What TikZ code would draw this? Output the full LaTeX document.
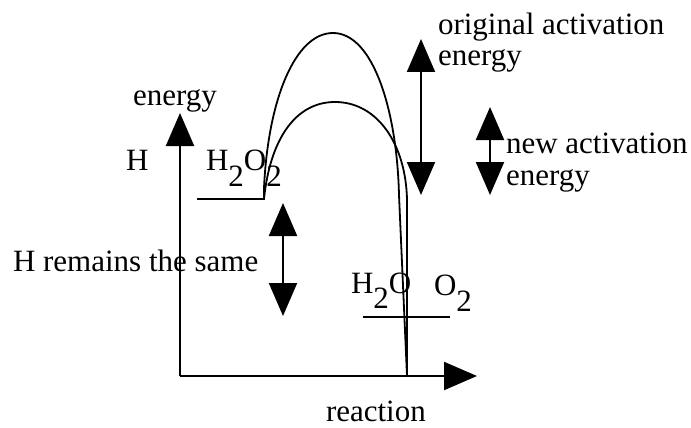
\documentclass[tikz,border=0pt]{standalone}
\usepackage{fontspec}
\setmainfont{Liberation Serif}
\usetikzlibrary{arrows.meta}
\begin{document}
\begin{tikzpicture}[x=1pt,y=-1pt,
  line width=2pt,
  lbl/.style={inner sep=0pt,font=\fontsize{31}{35}\selectfont},
  bigtip/.style={-{Triangle[length=33pt,width=28pt]}},
  dbl/.style={{Triangle[length=33pt,width=28pt]}-{Triangle[length=33pt,width=28pt]}},
  curve/.style={line width=1.8pt}]
\useasboundingbox (0,0) rectangle (691,428);
% axes
\coordinate (O) at (180,376);
\coordinate (ytip) at (180,113);
\coordinate (xtip) at (477,376);
\draw[bigtip] (O) -- (ytip);
\draw[bigtip] (O) -- (xtip);
% energy levels
\coordinate (rl) at (197,199);
\coordinate (rr) at (265,199);
\coordinate (pl) at (363,317);
\coordinate (pr) at (450,317);
\draw (rl) -- (rr);
\draw (pl) -- (pr);
% curves
\coordinate (s) at (264,199);
\coordinate (outEnd) at (399,195);
\coordinate (inEnd) at (407,200);
\coordinate (bot) at (407,376);
\draw[curve] (s) -- (264,188) .. controls (268,100) and (295,33) .. (333,33)
  .. controls (373,33) and (397,110) .. (outEnd) -- (bot);
\draw[curve] (s) .. controls (270,140) and (295,102) .. (335,102)
  .. controls (378,102) and (406,145) .. (inEnd) -- (bot);
% double arrows
\coordinate (oa1) at (421,39);
\coordinate (oa2) at (421,195);
\coordinate (na1) at (490,107);
\coordinate (na2) at (490,195);
\coordinate (hr1) at (283,203);
\coordinate (hr2) at (283,316);
\draw[dbl] (oa2) -- (oa1);
\draw[dbl] (na2) -- (na1);
\draw[dbl] (hr2) -- (hr1);
% labels
\node[lbl,anchor=base west] (orig1) at (437,35) {original activation};
\node[lbl,anchor=base west] (orig2) at (437,66) {energy};
\node[lbl,anchor=base west] (new1) at (505,153) {new activation};
\node[lbl,anchor=base west] (new2) at (505,185) {energy};
\node[lbl,anchor=base west] (ylab) at (132,105) {energy};
\node[lbl,anchor=base west] (H) at (125,170) {H};
\node[lbl,anchor=base west] (react) at (205,170) {H\raisebox{-16pt}{2}O\raisebox{-16pt}{2}};
\node[lbl,anchor=base west] (same) at (12,271) {H remains the same};
\node[lbl,anchor=base west] (water) at (350,293) {H\raisebox{-15pt}{2}O};
\node[lbl,anchor=base west] (oxy) at (433,295) {O\raisebox{-16pt}{2}};
\node[lbl,anchor=base west] (xlab) at (325,421) {reaction};
\end{tikzpicture}
\end{document}
